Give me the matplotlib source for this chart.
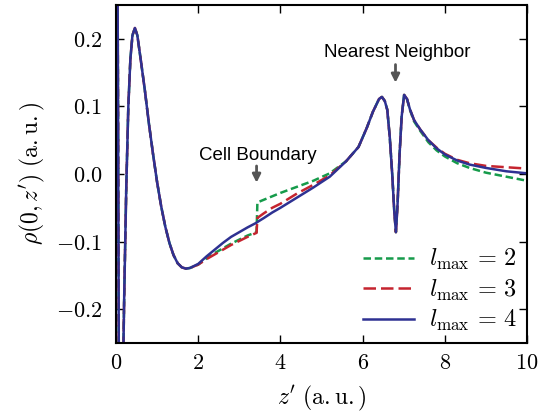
import numpy as np
import matplotlib
matplotlib.use('Agg')
import matplotlib.pyplot as plt
from matplotlib.ticker import FuncFormatter

plt.rcParams['mathtext.fontset'] = 'cm'

# values
z = [0.0, 0.03, 0.05, 0.07, 0.12, 0.17, 0.2, 0.25, 0.3, 0.35, 0.4, 0.46, 0.52, 0.6, 0.7,
     0.8, 0.9, 1.0, 1.1, 1.2, 1.3, 1.4, 1.5, 1.6, 1.7, 1.8, 2.0, 2.2, 2.4, 2.6, 2.8, 3.0,
     3.2, 3.42, 3.44, 3.6, 3.8, 4.0, 4.4, 4.8, 5.2, 5.6, 5.9, 6.1, 6.25, 6.4, 6.47, 6.54,
     6.6, 6.66, 6.72, 6.77, 6.81, 6.85, 6.9, 6.95, 7.01, 7.08, 7.15, 7.25, 7.4, 7.6, 7.8,
     8.0, 8.3, 8.6, 9.0, 9.5, 10.0]

rho_l4 = [0.6, 0.4, 0.1, -0.3, -0.45, -0.3, -0.18, -0.02, 0.10, 0.17, 0.205, 0.216, 0.205,
          0.17, 0.125, 0.075, 0.03, -0.012, -0.048, -0.078, -0.102, -0.12, -0.132, -0.138,
          -0.140, -0.139, -0.133, -0.122, -0.112, -0.102, -0.093, -0.086, -0.079, -0.072,
          -0.071, -0.065, -0.057, -0.050, -0.035, -0.020, -0.004, 0.019, 0.040, 0.068,
          0.092, 0.111, 0.114, 0.108, 0.095, 0.055, 0.0, -0.055, -0.086, -0.045, 0.03,
          0.085, 0.117, 0.111, 0.096, 0.080, 0.066, 0.050, 0.038, 0.029, 0.020, 0.014,
          0.009, 0.004, 0.001]

rho_l3 = [0.6, 0.4, 0.1, -0.3, -0.45, -0.3, -0.18, -0.02, 0.10, 0.17, 0.205, 0.216, 0.205,
          0.17, 0.125, 0.075, 0.03, -0.012, -0.048, -0.078, -0.102, -0.12, -0.132, -0.138,
          -0.140, -0.139, -0.134, -0.126, -0.119, -0.112, -0.105, -0.099, -0.093, -0.087,
          -0.065, -0.058, -0.050, -0.044, -0.029, -0.016, -0.002, 0.019, 0.040, 0.068,
          0.092, 0.111, 0.114, 0.108, 0.095, 0.055, 0.0, -0.055, -0.086, -0.045, 0.03,
          0.085, 0.117, 0.111, 0.096, 0.080, 0.066, 0.050, 0.039, 0.030, 0.021, 0.016,
          0.012, 0.010, 0.008]

rho_l2 = [0.6, 0.4, 0.1, -0.3, -0.45, -0.3, -0.18, -0.02, 0.10, 0.17, 0.205, 0.216, 0.205,
          0.17, 0.125, 0.075, 0.03, -0.012, -0.048, -0.078, -0.102, -0.12, -0.132, -0.138,
          -0.140, -0.139, -0.134, -0.125, -0.117, -0.110, -0.103, -0.097, -0.091, -0.086,
          -0.042, -0.038, -0.033, -0.028, -0.019, -0.010, 0.001, 0.019, 0.040, 0.068,
          0.092, 0.111, 0.114, 0.108, 0.095, 0.055, 0.0, -0.055, -0.086, -0.045, 0.03,
          0.085, 0.117, 0.111, 0.095, 0.078, 0.064, 0.047, 0.035, 0.026, 0.016, 0.009,
          0.002, -0.004, -0.010]

fig = plt.figure(figsize=(5.38, 4.18), dpi=100)
ax = fig.add_axes([0.2156, 0.1794, 0.9796 - 0.2156, 0.988 - 0.1794])

lw = 1.8
ax.plot(z, rho_l2, color='#169b4b', lw=lw, dashes=(3, 1.5), label=r'$l_{\max}\,=\,2$')
ax.plot(z, rho_l3, color='#c5242f', lw=lw, dashes=(5, 2), label=r'$l_{\max}\,=\,3$')
ax.plot(z, rho_l4, color='#2e3192', lw=lw, label=r'$l_{\max}\,=\,4$')

ax.set_xlim(0, 10)
ax.set_ylim(-0.25, 0.25)
ax.set_xticks([0, 2, 4, 6, 8, 10])
ax.set_yticks([-0.2, -0.1, 0.0, 0.1, 0.2])
ax.xaxis.set_major_formatter(FuncFormatter(lambda v, p: '$%d$' % v))
ax.yaxis.set_major_formatter(FuncFormatter(lambda v, p: '$%.1f$' % v))
ax.tick_params(direction='in', top=True, right=True, length=6, width=1,
               labelsize=16, pad=7)
ax.tick_params(axis='y', pad=10)
for s in ax.spines.values():
    s.set_linewidth(1.5)

ax.set_xlabel(r'$z^{\prime}\ (\mathrm{a.u.})$', fontsize=17, labelpad=8)
ax.set_ylabel(r'$\rho(0,z^{\prime})\ (\mathrm{a.u.})$', fontsize=17, labelpad=6)

arr = dict(arrowstyle='-|>', color='#555555', lw=2, mutation_scale=12)
ax.annotate('', xy=(3.42, -0.017), xytext=(3.42, 0.016), arrowprops=arr)
ax.annotate('', xy=(6.8, 0.131), xytext=(6.8, 0.166), arrowprops=arr)
ax.text(3.45, 0.027, 'Cell Boundary', fontsize=13.5, family='Liberation Sans',
        ha='center', va='center')
ax.text(6.84, 0.180, 'Nearest Neighbor', fontsize=13.5, family='Liberation Sans',
        ha='center', va='center')

ax.legend(loc='lower right', frameon=False, fontsize=17.5, handlelength=2.1,
          handletextpad=0.6, labelspacing=0.22, borderaxespad=0.0)

fig.savefig('out.png', dpi=100)
